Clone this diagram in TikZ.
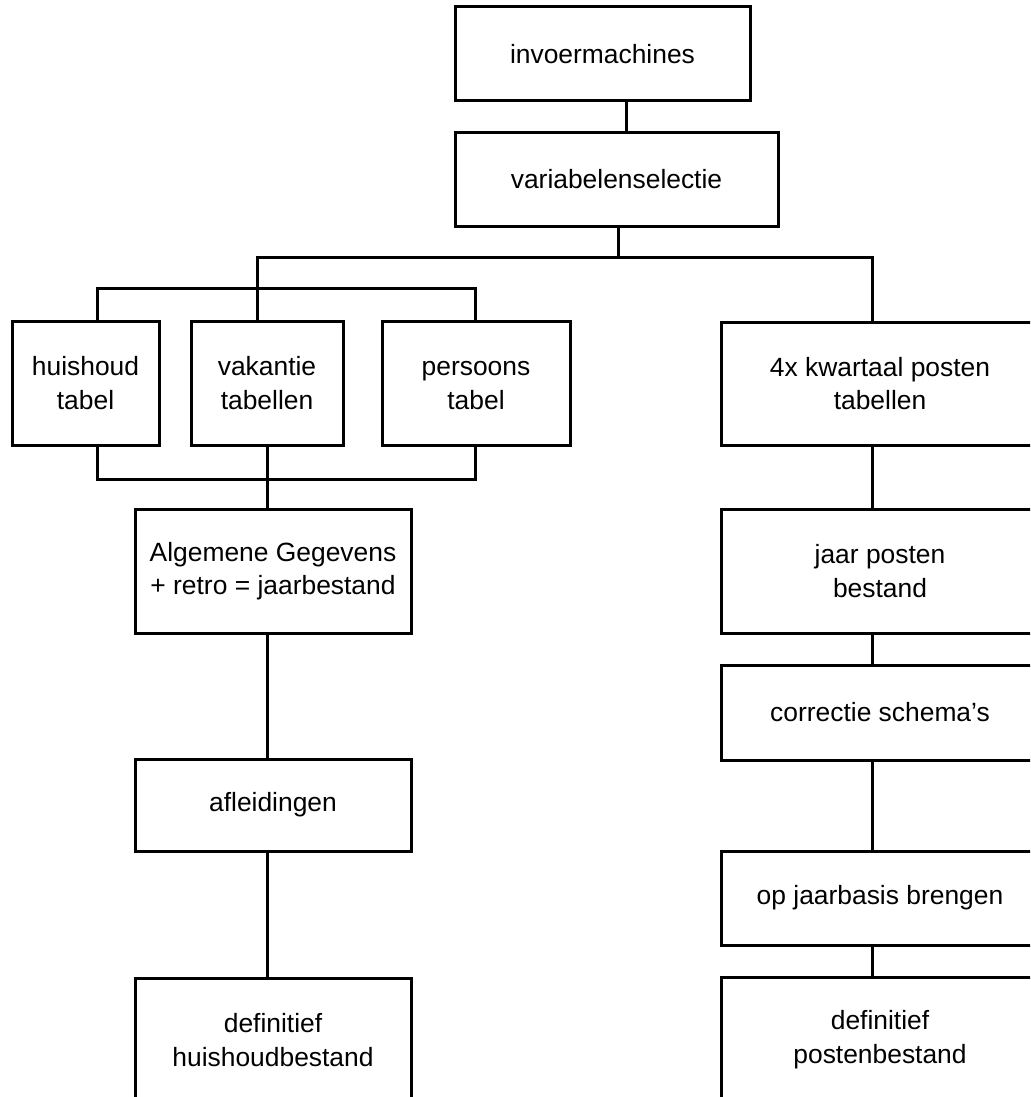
\documentclass[tikz,border=0pt]{standalone}
\usepackage{fontspec}
\setmainfont{Liberation Sans}
\usetikzlibrary{calc}

\begin{document}
\begin{tikzpicture}[x=0.5pt,y=-0.5pt,
  box/.style={draw,rectangle,line width=1.5pt,align=center,inner sep=0pt,font=\fontsize{13.2}{16.7}\selectfont},
  link/.style={line width=1.5pt}]
\path[use as bounding box,clip] (0,0) rectangle (1030,1097);

\draw node [box,minimum width=147.5pt,minimum height=47pt](invoer) at (602.5,54){invoermachines};
\draw node [box,minimum width=161.5pt,minimum height=46.5pt](varsel) at (616.5,179.5){variabelenselectie};

\draw node [box,minimum width=73.5pt,minimum height=62pt](huishoud) at (85.5,383){huishoud\\tabel};
\draw node [box,minimum width=76pt,minimum height=62pt](vakantie) at (267,383){vakantie\\tabellen};
\draw node [box,minimum width=94pt,minimum height=62pt](persoons) at (476,383){\vphantom{h}persoons\\tabel};
\draw node [box,minimum width=159pt,minimum height=61.5pt](kwartaal) at (880,383.5){4x kwartaal posten\\tabellen};

\draw node [box,minimum width=138pt,minimum height=62pt](algemeen) at (273,571){Algemene Gegevens\\+ retro = jaarbestand};
\draw node [box,minimum width=138pt,minimum height=46pt](afleid) at (273,805){afleidingen};
\draw node [box,minimum width=138pt,minimum height=62pt](defhuis) at (273,1040){definitief\\huishoudbestand};

\draw node [box,minimum width=159pt,minimum height=62pt](jaarposten) at (880,571){jaar posten\\bestand};
\draw node [box,minimum width=159pt,minimum height=47.5pt](correctie) at (880,712.5){correctie schema's};
\draw node [box,minimum width=159pt,minimum height=47pt](opjaar) at (880,898){op jaarbasis brengen};
\draw node [box,minimum width=159pt,minimum height=62pt](defposten) at (880,1039.5){definitief\\postenbestand};

\coordinate (fork) at (618,257);
\draw[link] ($ (invoer.south)+(23.5,0) $) -- ($ (varsel.north)+(9.5,0) $);
\draw[link] ($ (varsel.south)+(1.5,0) $) -- (fork);
\draw[link] ($ (vakantie.north)+(-10,0) $) |- (fork);
\draw[link] (fork) -| ($ (kwartaal.north)+(-8,0) $);

\draw[link] ($ (huishoud.north)+(11.5,0) $) |- ($ (persoons.north)+(-1,-31) $) -- ($ (persoons.north)+(-1,0) $);
\draw[link] ($ (huishoud.south)+(11.5,0) $) -- ++(0,33) -| ($ (persoons.south)+(-1,0) $);
\draw[link] (vakantie.south) -- (algemeen.north -| vakantie.south);
\draw[link] ($ (algemeen.south)+(-6,0) $) -- ($ (afleid.north)+(-6,0) $);
\draw[link] ($ (afleid.south)+(-6,0) $) -- ($ (defhuis.north)+(-6,0) $);

\foreach \a/\b in {kwartaal/jaarposten,jaarposten/correctie,correctie/opjaar,opjaar/defposten}
  \draw[link] ($ (\a.south)+(-8,0) $) -- ($ (\b.north)+(-8,0) $);

\end{tikzpicture}
\end{document}
